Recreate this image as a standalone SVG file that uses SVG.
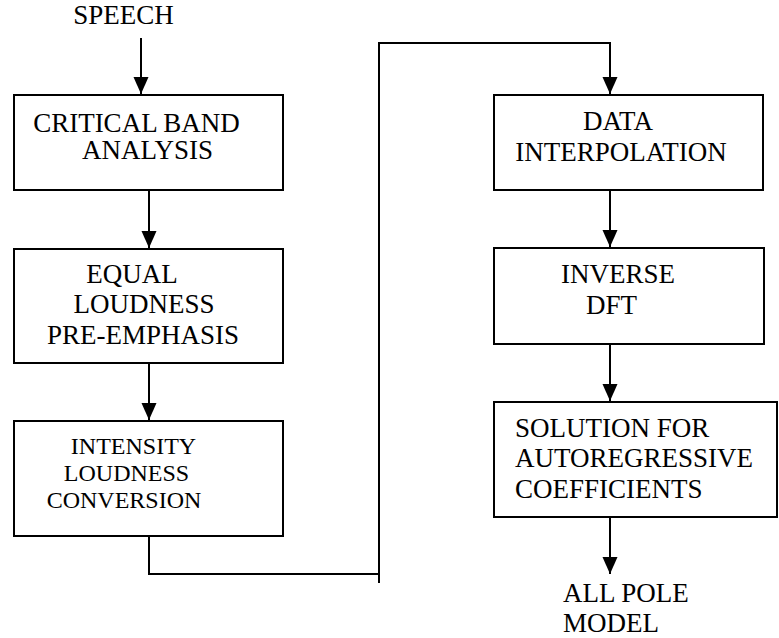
<svg xmlns="http://www.w3.org/2000/svg" width="779" height="638" viewBox="0 0 779 638">
<defs>
<marker id="ah" viewBox="0 -8 17 16" refX="17" refY="0" markerWidth="17" markerHeight="16" markerUnits="userSpaceOnUse" orient="auto">
<path d="M0,-7.5 L17,0 L0,7.5 z" fill="#000"/>
</marker>
</defs>
<g id="connectors" fill="none" stroke="#000" stroke-width="2">
<line x1="141" y1="38" x2="141" y2="94" marker-end="url(#ah)"/>
<line x1="149" y1="190" x2="149" y2="248" marker-end="url(#ah)"/>
<line x1="149" y1="363" x2="149" y2="420" marker-end="url(#ah)"/>
<path d="M149,536 V574 H379"/>
<path d="M379,583 V43 H610 V94" marker-end="url(#ah)"/>
<line x1="610" y1="190" x2="610" y2="247" marker-end="url(#ah)"/>
<line x1="610" y1="344" x2="610" y2="401" marker-end="url(#ah)"/>
<line x1="610" y1="517" x2="610" y2="574" marker-end="url(#ah)"/>
</g>
<g font-size="27">
<g id="speech"><text font-family="Times New Roman" text-anchor="middle" x="123.5" y="24">SPEECH</text></g>
<g id="critical-band">
<rect fill="#fff" stroke="#000" stroke-width="2" x="14" y="95" width="269" height="95"/>
<text font-family="Times New Roman" text-anchor="middle" x="136.5" y="132">CRITICAL BAND</text>
<text font-family="Times New Roman" text-anchor="middle" x="147.5" y="159">ANALYSIS</text>
</g>
<g id="equal-loudness">
<rect fill="#fff" stroke="#000" stroke-width="2" x="14" y="249" width="269" height="114"/>
<text font-family="Times New Roman" text-anchor="middle" x="132" y="283">EQUAL</text>
<text font-family="Times New Roman" text-anchor="middle" x="144" y="313">LOUDNESS</text>
<text font-family="Times New Roman" text-anchor="middle" x="143" y="344">PRE-EMPHASIS</text>
</g>
<g id="intensity-loudness" font-size="24">
<rect fill="#fff" stroke="#000" stroke-width="2" x="14" y="421" width="269" height="115"/>
<text font-family="Times New Roman" text-anchor="middle" x="133.5" y="454">INTENSITY</text>
<text font-family="Times New Roman" text-anchor="middle" x="126.5" y="481">LOUDNESS</text>
<text font-family="Times New Roman" text-anchor="middle" x="124" y="508">CONVERSION</text>
</g>
<g id="data-interpolation">
<rect fill="#fff" stroke="#000" stroke-width="2" x="494" y="95" width="269" height="95"/>
<text font-family="Times New Roman" text-anchor="middle" x="618" y="130">DATA</text>
<text font-family="Times New Roman" text-anchor="middle" x="621" y="161">INTERPOLATION</text>
</g>
<g id="inverse-dft">
<rect fill="#fff" stroke="#000" stroke-width="2" x="494" y="248" width="270" height="96"/>
<text font-family="Times New Roman" text-anchor="middle" x="618" y="283">INVERSE</text>
<text font-family="Times New Roman" text-anchor="middle" x="611.5" y="314">DFT</text>
</g>
<g id="solution">
<rect fill="#fff" stroke="#000" stroke-width="2" x="494" y="402" width="283" height="115"/>
<text font-family="Times New Roman" x="515" y="437">SOLUTION FOR</text>
<text font-family="Times New Roman" x="515" y="467">AUTOREGRESSIVE</text>
<text font-family="Times New Roman" x="515" y="498">COEFFICIENTS</text>
</g>
<g id="all-pole">
<text font-family="Times New Roman" x="563" y="602">ALL POLE</text>
<text font-family="Times New Roman" x="563" y="632">MODEL</text>
</g>
</g>
</svg>
